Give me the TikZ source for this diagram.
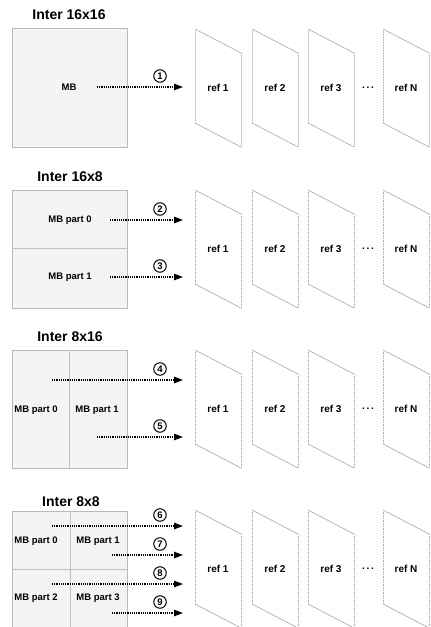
\documentclass[tikz,border=0pt]{standalone}
\usepackage{fontspec}
\setmainfont{Liberation Sans}
\usetikzlibrary{arrows.meta}
\tikzset{
  title/.style={font=\bfseries\fontsize{14}{16}\selectfont, inner sep=0pt},
  lbl/.style={font=\bfseries\fontsize{9.5}{11}\selectfont, inner sep=0pt},
  reflbl/.style={font=\bfseries\fontsize{10}{12}\selectfont, inner sep=0pt},
  mbbox/.style={draw=gray!55, fill=gray!9, line width=0.7pt},
  divider/.style={draw=gray!50, line width=0.8pt},
  num/.style={circle, draw, line width=1pt, minimum size=12.5pt, inner sep=0pt, font=\bfseries\fontsize{9.5}{10}\selectfont},
  mv/.style={densely dotted, line width=1.2pt, -{Triangle[length=9pt,width=6.5pt]}},
  slant/.style={draw=gray!75, line width=0.55pt},
  vedge/.style={draw=gray!60, line width=0.6pt, densely dotted}
}
\newcommand\refrow[2]{%
  \foreach \L/\lab/\k in {195/ref 1/1, 252/ref 2/2, 308/ref 3/3, 383/ref N/N}{
    \draw[slant] ({\L},{#2-59}) -- ({\L+46},{#2-35});
    \draw[slant] ({\L},{#2+35}) -- ({\L+46},{#2+59});
    \draw[vedge] ({\L},{#2-59}) -- ({\L},{#2+35});
    \draw[vedge] ({\L+46},{#2-35}) -- ({\L+46},{#2+59});
    \node[reflbl] (#1-\k) at ({\L+23},{#2}) {\lab};
  }
  \node[reflbl] (#1-dots) at (368,{#2}) {.\,.\,.};
}
\begin{document}
\begin{tikzpicture}[x=1pt,y=-1pt]
\useasboundingbox (0,0) rectangle (431,627);

% ---------- Row 1: Inter 16x16
\node[title] (t1) at (69,15) {Inter 16x16};
\draw[mbbox] (12,28.5) rectangle (127,147.5);
\node[lbl] (mb) at (69,87) {MB};
\coordinate (a1s) at (97,87);
\coordinate (a1e) at (183,87);
\draw[mv] (a1s) -- (a1e);
\node[num] (n1) at (160,76) {1};
\refrow{r1}{88}

% ---------- Row 2: Inter 16x8
\node[title] (t2) at (70,177) {Inter 16x8};
\draw[mbbox] (12,190) rectangle (127,308);
\draw[divider] (12,248) -- (127,248);
\node[lbl] (p20) at (70,220) {MB part 0};
\node[lbl] (p21) at (70,277) {MB part 1};
\coordinate (a2s) at (110,220);
\coordinate (a2e) at (183,220);
\coordinate (a3s) at (110,277);
\coordinate (a3e) at (183,277);
\draw[mv] (a2s) -- (a2e);
\draw[mv] (a3s) -- (a3e);
\node[num] (n2) at (160,209) {2};
\node[num] (n3) at (160,266) {3};
\refrow{r2}{249}

% ---------- Row 3: Inter 8x16
\node[title] (t3) at (70,337) {Inter 8x16};
\draw[mbbox] (12,350) rectangle (127,468);
\draw[divider] (69,350) -- (69,468);
\node[lbl] (p30) at (36,410) {MB part 0};
\node[lbl] (p31) at (97,410) {MB part 1};
\coordinate (a4s) at (52,380);
\coordinate (a4e) at (183,380);
\coordinate (a5s) at (97,437);
\coordinate (a5e) at (183,437);
\draw[mv] (a4s) -- (a4e);
\draw[mv] (a5s) -- (a5e);
\node[num] (n4) at (160,369) {4};
\node[num] (n5) at (160,426) {5};
\refrow{r3}{409}

% ---------- Row 4: Inter 8x8
\node[title] (t4) at (71,502) {Inter 8x8};
\draw[mbbox] (12,511) rectangle (127,630);
\draw[divider] (12,569) -- (127,569);
\draw[divider] (70,511) -- (70,630);
\node[lbl] (p40) at (36,541) {MB part 0};
\node[lbl] (p41) at (98,541) {MB part 1};
\node[lbl] (p42) at (36,598) {MB part 2};
\node[lbl] (p43) at (98,598) {MB part 3};
\coordinate (a6s) at (52,526);
\coordinate (a6e) at (183,526);
\coordinate (a7s) at (112,555);
\coordinate (a7e) at (183,555);
\coordinate (a8s) at (52,584);
\coordinate (a8e) at (183,584);
\coordinate (a9s) at (112,613);
\coordinate (a9e) at (183,613);
\draw[mv] (a6s) -- (a6e);
\draw[mv] (a7s) -- (a7e);
\draw[mv] (a8s) -- (a8e);
\draw[mv] (a9s) -- (a9e);
\node[num] (n6) at (160,515) {6};
\node[num] (n7) at (160,544) {7};
\node[num] (n8) at (160,573) {8};
\node[num] (n9) at (160,602) {9};
\refrow{r4}{569}
\end{tikzpicture}
\end{document}
